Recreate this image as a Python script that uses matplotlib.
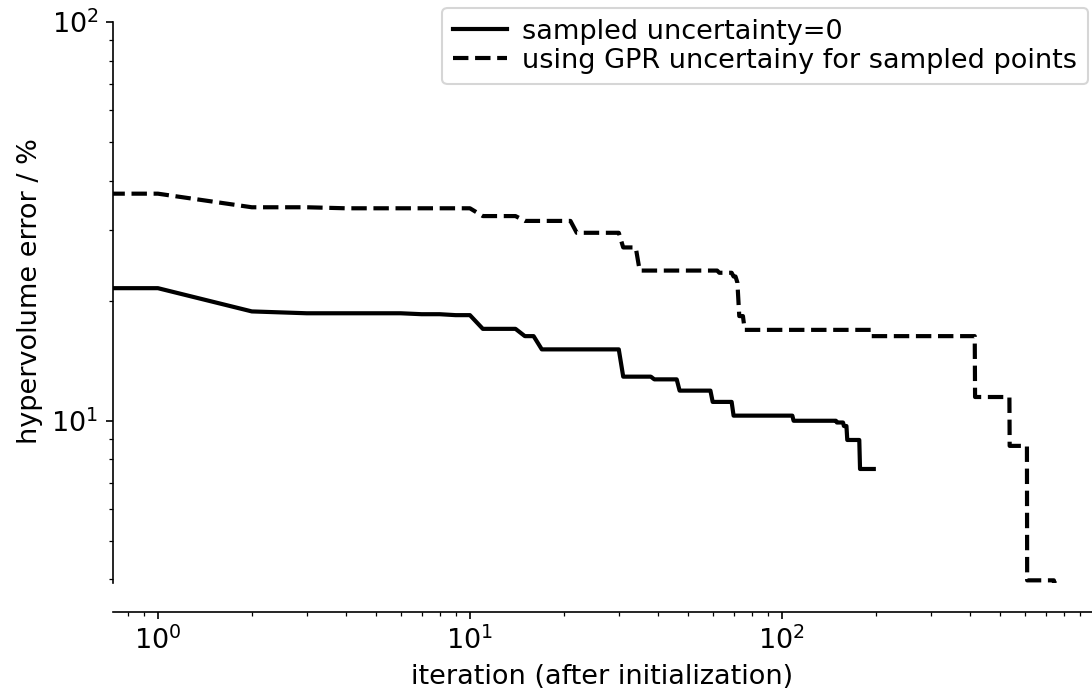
import numpy as np
import matplotlib.pyplot as plt

# best hypervolume error so far, stored as (iteration where it changes, new value)
zero_iters = [0, 2, 3, 7, 9, 11, 15, 17, 31, 39, 47, 60, 70, 109, 150, 158, 162, 178]
zero_vals = [21.5, 18.8, 18.6, 18.5, 18.4, 17.0, 16.3, 15.1, 12.9, 12.7, 11.9, 11.15,
             10.3, 10.0, 9.9, 9.7, 8.95, 7.57]
zero_last = 197

gpr_iters = [0, 2, 4, 11, 15, 22, 31, 35, 63, 70, 72, 73, 76, 194, 416, 537, 611, 745]
gpr_vals = [37.1, 34.3, 34.1, 32.6, 31.7, 29.6, 27.2, 23.8, 23.5, 23.0, 22.2, 18.3, 16.9,
            16.3, 11.47, 8.65, 3.98, 3.92]
gpr_last = 759

labels = ["sampled uncertainty=0", "using GPR uncertainy for sampled points"]


def expand(change_iters, change_vals, last):
    # running best -> value at every iteration
    it = np.arange(0, last + 1)
    idx = np.searchsorted(change_iters, it, side="right") - 1
    return it, np.asarray(change_vals)[idx]


x0, y0 = expand(zero_iters, zero_vals, zero_last)
x1, y1 = expand(gpr_iters, gpr_vals, gpr_last)

plt.rcParams["font.size"] = 13

fig = plt.figure(figsize=(7.28, 4.6467), dpi=150)
ax = fig.add_axes([0.1035, 0.1636, 0.8965, 0.8364])

ax.plot(x0, y0, color="black", lw=2, ls="-", label=labels[0])
ax.plot(x1, y1, color="black", lw=2, ls="--", label=labels[1])

ax.set_xscale("log")
ax.set_yscale("log")
ax.set_xlim(0.718, 986)
ymin = min(y1.min(), y0.min())
ax.set_ylim(ymin, 113.5)

ax.spines["top"].set_visible(False)
ax.spines["right"].set_visible(False)
ax.spines["bottom"].set_position(("outward", 14))
ax.spines["left"].set_bounds(ymin, 100)

ax.set_xlabel("iteration (after initialization)")
ax.set_ylabel("hypervolume error / %")
ax.legend(loc="upper right", bbox_to_anchor=(1088 / 1092, 689 / 697),
          bbox_transform=fig.transFigure, borderaxespad=0,
          labelspacing=0.1, handletextpad=0.55)

fig.savefig("out.png", dpi=150)
